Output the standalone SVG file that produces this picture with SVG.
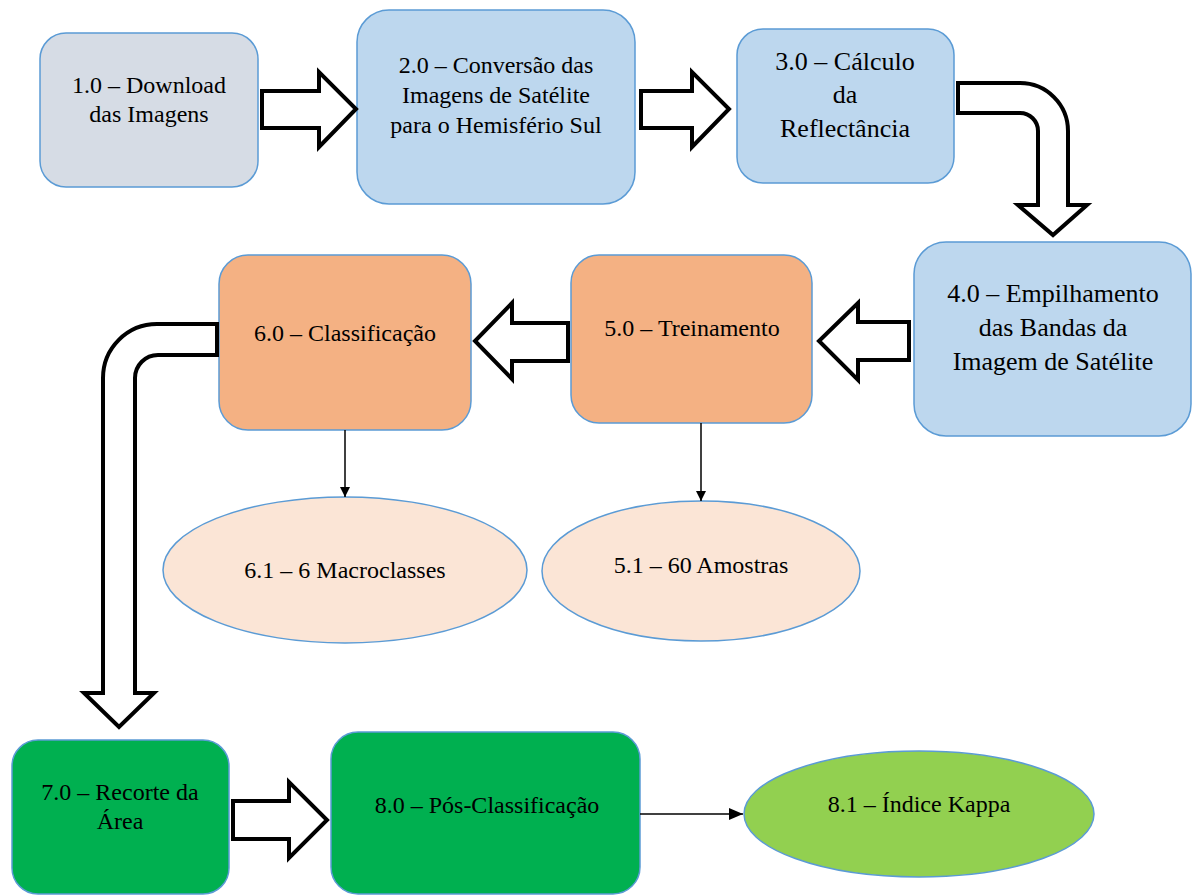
<svg xmlns="http://www.w3.org/2000/svg" width="1192" height="895" viewBox="0 0 1192 895">
<style>
  .n { stroke: #5b9bd5; stroke-width: 1.5; }
  .gray { fill: #d6dce5; }
  .blue { fill: #bdd7ee; }
  .orange { fill: #f4b183; }
  .peach { fill: #fbe5d6; }
  .green { fill: #00b050; }
  .lgreen { fill: #92d050; }
  text { font-family: "Liberation Serif", "Times New Roman", serif; font-size: 24px; fill: #000; text-anchor: middle; }
  .big { font-size: 26px; }
  .block { fill: #fff; stroke: #000; stroke-width: 4; stroke-linejoin: miter; }
  .thin { stroke: #000; stroke-width: 1.5; fill: none; }
</style>
<defs>
  <marker id="ah" viewBox="0 0 10 10" refX="10" refY="5" markerWidth="10" markerHeight="10" markerUnits="userSpaceOnUse" orient="auto">
    <path d="M0,0 L10,5 L0,10 Z" fill="#000"/>
  </marker>
  <marker id="ahw" viewBox="0 0 14 12" refX="14" refY="6" markerWidth="14" markerHeight="12" markerUnits="userSpaceOnUse" orient="auto">
    <path d="M0,0 L14,6 L0,12 Z" fill="#000"/>
  </marker>
</defs>
<rect width="1192" height="895" fill="#fff"/>

<g id="n1">
  <rect class="n gray" x="40" y="33" width="218" height="154" rx="26"/>
  <text x="149" y="93">1.0 – Download</text>
  <text x="149" y="122">das Imagens</text>
</g>
<g id="n2">
  <rect class="n blue" x="357" y="10" width="278" height="194" rx="32"/>
  <text x="496" y="73">2.0 – Conversão das</text>
  <text x="496" y="103">Imagens de Satélite</text>
  <text x="496" y="133">para o Hemisfério Sul</text>
</g>
<g id="n3">
  <rect class="n blue" x="737" y="29" width="217" height="154" rx="26"/>
  <text class="big" x="845" y="70">3.0 – Cálculo</text>
  <text class="big" x="845" y="103">da</text>
  <text class="big" x="845" y="137">Reflectância</text>
</g>
<g id="n4">
  <rect class="n blue" x="914" y="242" width="277" height="194" rx="32"/>
  <text class="big" x="1053" y="302">4.0 – Empilhamento</text>
  <text class="big" x="1053" y="336">das Bandas da</text>
  <text class="big" x="1053" y="370">Imagem de Satélite</text>
</g>
<g id="n5">
  <rect class="n orange" x="571" y="255" width="241" height="168" rx="28"/>
  <text x="692" y="336">5.0 – Treinamento</text>
</g>
<g id="n6">
  <rect class="n orange" x="219" y="255" width="252" height="175" rx="29"/>
  <text x="345" y="341">6.0 – Classificação</text>
</g>
<g id="n61">
  <ellipse class="n peach" cx="345" cy="570" rx="182" ry="73"/>
  <text x="345" y="578">6.1 – 6 Macroclasses</text>
</g>
<g id="n51">
  <ellipse class="n peach" cx="701" cy="571" rx="159" ry="70"/>
  <text x="701" y="573">5.1 – 60 Amostras</text>
</g>
<g id="n7">
  <rect class="n green" x="12" y="740" width="217" height="154" rx="26"/>
  <text x="120" y="800">7.0 – Recorte da</text>
  <text x="120" y="829">Área</text>
</g>
<g id="n8">
  <rect class="n green" x="331" y="732" width="309" height="162" rx="27"/>
  <text x="487" y="813">8.0 – Pós-Classificação</text>
</g>
<g id="n81">
  <ellipse class="n lgreen" cx="919" cy="814" rx="175" ry="63"/>
  <text x="919" y="812">8.1 – Índice Kappa</text>
</g>

<g id="connectors">
  <path class="block" d="M262,91 H319 V72 L356,109 L319,147 V128 H262 Z"/>
  <path class="block" d="M641,91 H692 V72 L729,109 L692,147 V128 H641 Z"/>
  <path class="block" d="M958,83 H1020 A48,48 0 0 1 1068,131 V205 H1087 L1053,235 L1018,205 H1038 V131 A18,18 0 0 0 1020,113 H958 Z"/>
  <path class="block" d="M909,322 H858 V303 L819,341 L858,380 V360 H909 Z"/>
  <path class="block" d="M568,323 H512 V303 L475,341 L512,379 V361 H568 Z"/>
  <path class="block" d="M217,324 H157 A54,54 0 0 0 103,378 V693 H84 L119,727 L154,693 H135 V378 A23,23 0 0 1 158,355 H217 Z"/>
  <path class="block" d="M233,801 H289 V782 L327,820 L289,858 V839 H233 Z"/>
  <line class="thin" x1="345" y1="430" x2="345" y2="497" marker-end="url(#ah)"/>
  <line class="thin" x1="701" y1="423" x2="701" y2="501" marker-end="url(#ah)"/>
  <line class="thin" x1="640" y1="814" x2="743" y2="814" marker-end="url(#ahw)"/>
</g>
</svg>
